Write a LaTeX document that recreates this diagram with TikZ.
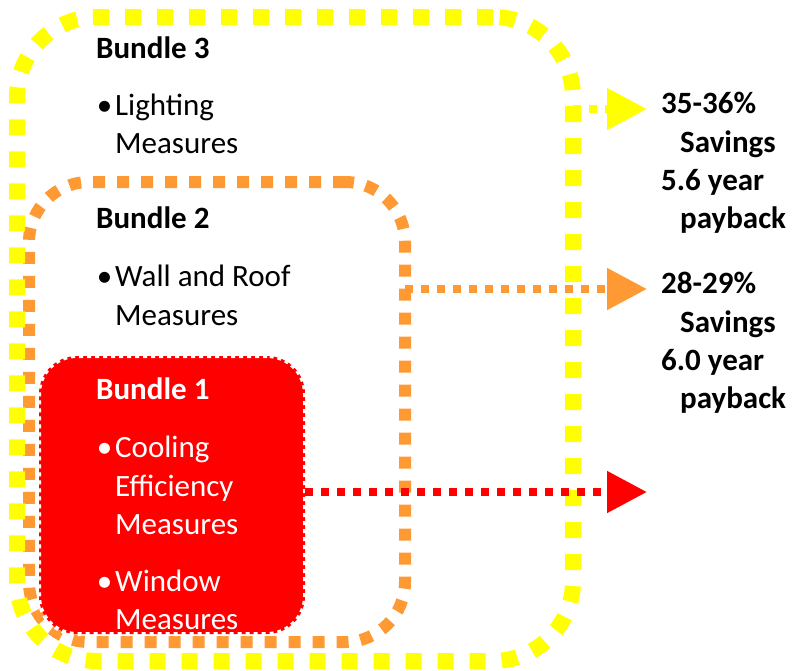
\documentclass[tikz,border=0pt]{standalone}
\usepackage{fontspec}
\setmainfont{Carlito}
\usetikzlibrary{arrows.meta}

\definecolor{bundleyellow}{HTML}{FFFF00}
\definecolor{bundleorange}{HTML}{FF9933}
\definecolor{bundlered}{HTML}{FF0000}

\tikzset{
  bundle/.style={draw, inner sep=0pt, outer sep=0pt},
  itemtext/.style={anchor=base west, inner sep=0pt, font=\fontsize{31}{38}\selectfont},
  titletext/.style={itemtext, font=\fontsize{31}{38}\selectfont\bfseries},
  result/.style={-{Triangle[length=40pt,width=40pt]}, line width=8pt, dash pattern=on 8pt off 8pt},
}

\begin{document}
\begin{tikzpicture}[x=1pt, y=-1pt]
  \useasboundingbox (0,0) rectangle (792,670);

  % bundles
  \node[bundle, bundleorange, line width=12pt, dash pattern=on 12pt off 12pt,
        rounded corners=60pt, minimum width=376pt, minimum height=460pt] (b2) at (217,412) {};
  \node[bundle, bundleyellow, line width=16pt, dash pattern=on 16pt off 16pt,
        rounded corners=80pt, minimum width=556pt, minimum height=644pt] (b3) at (295,339) {};
  \node[bundle, draw=white, fill=bundlered, line width=4pt, dash pattern=on 4pt off 4pt,
        rounded corners=38pt, minimum width=266pt, minimum height=278pt] (b1) at (172,495) {};

  % arrows to the results
  \coordinate (r3) at (647,109);
  \coordinate (r2) at (647,289);
  \coordinate (r1) at (647,492);
  \draw[result, bundleyellow] (r3 -| b3.east) -- (r3);
  \draw[result, bundleorange] (r2 -| b2.east) -- (r2);
  \draw[result, bundlered] (r1 -| b1.east) -- (r1);

  % bundle texts
  \node[titletext] (t3) at (96,58) {Bundle 3};
  \node[itemtext] (i3a) at (115,115) {\llap{•\hspace{3pt}}Lighting};
  \node[itemtext] (i3b) at (115,153) {Measures};
  \node[titletext] (t2) at (96,228) {Bundle 2};
  \node[itemtext] (i2a) at (115,286) {\llap{•\hspace{3pt}}Wall and Roof};
  \node[itemtext] (i2b) at (115,325) {Measures};
  \node[titletext, white] (t1) at (96,399) {Bundle 1};
  \node[itemtext, white] (i1a) at (115,457) {\llap{•\hspace{3pt}}Cooling};
  \node[itemtext, white] (i1b) at (115,496) {Efficiency};
  \node[itemtext, white] (i1c) at (115,534) {Measures};
  \node[itemtext, white] (i1d) at (115,591) {\llap{•\hspace{3pt}}Window};
  \node[itemtext, white] (i1e) at (115,629) {Measures};

  % results
  \node[titletext] (s3a) at (661,113) {35-36\%};
  \node[titletext] (s3b) at (680,152) {Savings};
  \node[titletext] (s3c) at (661,190) {5.6 year};
  \node[titletext] (s3d) at (680,228) {payback};
  \node[titletext] (s2a) at (661,293) {28-29\%};
  \node[titletext] (s2b) at (680,332) {Savings};
  \node[titletext] (s2c) at (661,370) {6.0 year};
  \node[titletext] (s2d) at (680,408) {payback};
\end{tikzpicture}
\end{document}
